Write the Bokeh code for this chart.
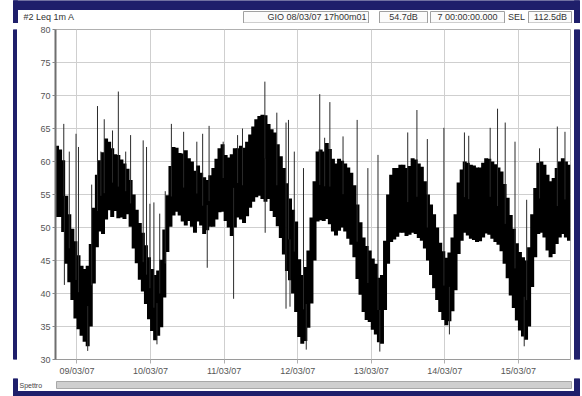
import pandas as pd
from bokeh.plotting import figure
from bokeh.layouts import column, row
from bokeh.models import (DatetimeTickFormatter, DaysTicker, FixedTicker, Range1d,
                          ColumnDataSource)
from bokeh.core.properties import value
from bokeh.embed import file_html
from bokeh.resources import INLINE

# ---------------- data ----------------
START = "2007-03-08 17:00"
END = "2007-03-15 17:00"

# hourly envelope of Leq 1m (dB), one value per hour from START
band_lo = [51.6, 51.6, 49.3, 44.5, 41.7, 39.0, 36.2, 34.6, 33.6, 32.7, 32.0, 35.0,
           41.5, 47.0, 49.4, 49.0, 51.2, 52.6, 51.6, 52.5, 51.4, 51.5, 51.3, 52.0,
           50.1, 46.8, 44.6, 42.1, 40.3, 38.4, 36.1, 34.3, 32.9, 33.6, 34.9, 39.4,
           46.3, 50.1, 51.8, 52.4, 51.8, 50.9, 50.3, 51.0, 50.1, 49.2, 50.9, 50.3,
           49.0, 49.6, 50.1, 50.1, 51.2, 52.3, 52.4, 51.0, 50.0, 48.7, 50.0, 51.5,
           51.2, 50.7, 51.7, 53.0, 53.9, 54.6, 54.8, 54.3, 53.9, 54.3, 52.5, 51.6,
           50.2, 48.4, 45.9, 43.4, 42.0, 40.0, 37.2, 33.4, 32.4, 32.8, 34.8, 38.5,
           45.0, 50.9, 51.1, 51.0, 51.3, 50.5, 49.4, 48.8, 49.5, 50.0, 49.4, 48.3,
           47.4, 45.5, 42.2, 39.8, 37.2, 36.0, 35.7, 34.5, 33.8, 32.6, 32.4, 37.5,
           44.5, 47.8, 48.2, 48.6, 49.2, 49.2, 48.7, 48.9, 49.2, 49.0, 48.4, 48.0,
           46.8, 45.0, 42.8, 40.8, 39.0, 37.2, 36.0, 35.2, 35.8, 37.3, 40.5, 46.0,
           48.0, 49.2, 48.8, 48.3, 48.1, 47.8, 47.9, 48.5, 49.1, 48.9, 48.3, 47.8,
           47.4, 46.4, 44.5, 42.3, 39.7, 37.8, 35.9, 34.4, 33.5, 33.0, 35.0, 41.0,
           45.5, 49.0, 49.2, 48.5, 46.5, 45.5, 46.0, 47.5, 48.5, 49.0, 48.5, 48.0]
band_hi = [62.4, 61.8, 60.2, 54.8, 52.0, 49.8, 47.9, 45.8, 44.2, 43.7, 44.2, 47.5,
           53.0, 58.0, 60.2, 61.4, 63.5, 63.0, 62.0, 61.1, 61.0, 60.3, 59.7, 58.9,
           57.2, 55.0, 52.7, 50.7, 49.2, 47.3, 45.5, 43.7, 42.8, 43.5, 45.1, 49.7,
           54.9, 59.3, 62.2, 62.1, 61.3, 61.2, 61.7, 60.5, 60.0, 58.6, 59.4, 58.3,
           57.6, 57.2, 57.9, 59.0, 60.4, 62.0, 62.6, 61.0, 60.6, 61.1, 62.0, 62.0,
           62.4, 62.1, 63.0, 64.1, 65.3, 66.4, 66.9, 67.1, 67.0, 65.7, 64.9, 64.4,
           62.6, 60.8, 59.0, 56.7, 54.4, 52.7, 50.9, 45.2, 42.8, 44.0, 46.5, 51.5,
           57.0, 61.5, 61.8, 61.5, 62.8, 61.9, 60.4, 59.7, 60.4, 60.1, 59.7, 59.1,
           58.3, 56.4, 53.5, 50.8, 48.5, 47.2, 46.5, 45.3, 44.5, 42.4, 42.8, 48.0,
           55.0, 58.0, 59.0, 59.0, 59.5, 59.5, 59.0, 59.3, 60.5, 60.3, 59.7, 59.2,
           57.0, 55.0, 53.5, 52.0, 50.0, 47.7, 46.4, 45.4, 46.2, 48.5, 52.0, 56.8,
           58.8, 60.0, 59.8, 59.5, 59.4, 59.1, 59.1, 59.8, 60.5, 60.4, 60.0, 59.6,
           59.1, 58.5, 56.6, 54.5, 51.9, 49.8, 47.6, 46.3, 45.5, 45.0, 47.0, 52.0,
           56.0, 59.8, 60.0, 59.5, 58.0, 57.0, 57.5, 59.0, 60.0, 60.5, 60.0, 59.5]

# isolated upward peaks: hours after START, level (dB)
spike_h = [2.7, 4.5, 6.7, 7.5, 11.8, 13.7, 14.8, 15.9, 18.6, 20.5, 22.9, 24.5,
           28.6, 29.7, 30.8, 32.1, 34.0, 35.8, 37.8, 41.8, 46.1, 48.0, 50.1, 54.7,
           59.4, 61.0, 68.3, 72.2, 75.2, 76.0, 77.9, 80.9, 86.2, 87.8, 89.5, 93.8,
           98.4, 101.9, 105.2, 114.9, 117.9, 121.3, 126.7, 133.4, 134.8, 141.8,
           144.2, 146.7, 149.9, 153.7, 157.9, 163.7, 166.2]
spike_db = [65.7, 61.5, 64.2, 62.2, 56.5, 68.4, 61.5, 66.4, 64.7, 70.6, 61.5, 64.0,
            63.2, 62.2, 53.6, 53.8, 52.1, 55.5, 65.7, 64.5, 63.0, 64.2, 65.4, 63.0,
            64.0, 65.0, 72.1, 67.4, 65.9, 66.3, 61.5, 59.0, 70.2, 63.6, 69.0, 63.8,
            66.3, 59.0, 61.0, 64.4, 67.8, 63.4, 65.1, 64.4, 63.9, 65.1,
            68.0, 65.9, 63.0, 54.2, 62.0, 65.3, 64.5]

# isolated downward dips: hours after START, level (dB)
dip_h = [2.9, 10.5, 33.1, 49.5, 58.1, 68.4, 75.2, 76.5, 81.8, 105.8, 128.5, 152.9]
dip_db = [41.3, 31.3, 32.3, 43.9, 39.2, 49.2, 37.7, 38.0, 31.5, 31.2, 33.8, 32.0]

y_ticks = [30, 35, 40, 45, 50, 55, 60, 65, 70, 75, 80]

header_left = "#2  Leq 1m  A"
header_fields = ["GIO 08/03/07 17h00m01", "54.7dB", "7 00:00:00.000", "112.5dB"]
header_sel_label = "SEL"
footer_label = "Spettro"

# ---------------- styling constants ----------------
FONT = "Liberation Sans"
NAVY = "#1f1f6b"
W = 582


def deco_fig(width, height):
    f = figure(width=width, height=height, x_range=Range1d(0, width),
               y_range=Range1d(height, 0), output_backend="svg",
               toolbar_location=None, x_axis_location=None, y_axis_location=None,
               min_border=0, min_border_left=0, min_border_right=0,
               min_border_top=0, min_border_bottom=0)
    f.grid.visible = False
    f.outline_line_color = None
    f.background_fill_color = "white"
    f.border_fill_color = "white"
    return f


def rects(f, x0, y0, x1, y1, fill, line=None):
    f.quad(left=x0, right=x1, top=y0, bottom=y1, fill_color=fill,
           line_color=line if line else fill, line_width=1)


# ---------------- header ----------------
HH = 23
hdr = deco_fig(W, HH)
rects(hdr, [13], [0], [579], [9], NAVY)
rects(hdr, [13, 574], [0, 0], [17, 579], [HH, HH], NAVY)
rects(hdr, [243, 379, 430, 528], [11] * 4, [368, 427, 504, 571], [22.5] * 4,
      "#fbfbfb", "#a0a0a0")
txt_kw = dict(text_font=value(FONT), text_font_size="9px", text_color="#333333",
              text_baseline="middle")
hdr.text(x=[23], y=[16.5], text=[header_left], text_align="left", **txt_kw)
hdr.text(x=[366], y=[16.5], text=[header_fields[0]], text_align="right", **txt_kw)
hdr.text(x=[403, 467, 550], y=[16.5] * 3,
         text=[header_fields[1], header_fields[2], header_fields[3]],
         text_align="center", **txt_kw)
hdr.text(x=[516], y=[16.5], text=[header_sel_label], text_align="center", **txt_kw)

# ---------------- main plot ----------------
MH = 355
t0 = pd.Timestamp(START)
hours = pd.date_range(START, periods=len(band_lo), freq="h") + pd.Timedelta(minutes=30)
band = ColumnDataSource(dict(t=hours, lo=band_lo, hi=band_hi))


def base_of(h):
    i = min(int(h), len(band_lo) - 1)
    return (band_lo[i] + band_hi[i]) / 2.0


spikes = ColumnDataSource(dict(
    t=[t0 + pd.Timedelta(hours=h) for h in spike_h],
    y0=[base_of(h) for h in spike_h], y1=spike_db))
dips = ColumnDataSource(dict(
    t=[t0 + pd.Timedelta(hours=h) for h in dip_h],
    y0=[base_of(h) for h in dip_h], y1=dip_db))

p = figure(width=556, height=MH, x_axis_type="datetime",
           x_range=Range1d(pd.Timestamp(START), pd.Timestamp(END)),
           y_range=Range1d(30, 80),
           output_backend="svg", toolbar_location=None,
           min_border_left=38, min_border_right=3,
           min_border_top=6, min_border_bottom=18)
p.background_fill_color = "white"
p.border_fill_color = "white"
p.outline_line_color = "#b0b0b0"

HOUR_MS = 3600 * 1000
p.vbar(x="t", bottom="lo", top="hi", width=1.3 * HOUR_MS, source=band,
       fill_color="black", line_color=None)
p.segment(x0="t", y0="y0", x1="t", y1="y1", source=spikes, line_color="#2a2a2a",
          line_width=1)
p.segment(x0="t", y0="y0", x1="t", y1="y1", source=dips, line_color="#2a2a2a",
          line_width=1)

day_ticker = DaysTicker(days=list(range(1, 32)))
p.xaxis.ticker = day_ticker
p.xaxis.formatter = DatetimeTickFormatter(days="%d/%m/%y", months="%d/%m/%y",
                                          hours="%d/%m/%y")
p.yaxis.ticker = FixedTicker(ticks=y_ticks)
p.xgrid.ticker = day_ticker
p.ygrid.ticker = FixedTicker(ticks=y_ticks)
p.grid.grid_line_color = "#cfcfcf"
p.grid.grid_line_width = 1

for ax in (p.xaxis[0], p.yaxis[0]):
    ax.major_label_text_font = FONT
    ax.major_label_text_font_size = "9px"
    ax.major_label_text_color = "#555555"
    ax.minor_tick_line_color = None
    ax.major_tick_in = 0
    ax.major_label_standoff = 2
p.yaxis.axis_line_color = "#6f6f6f"
p.yaxis.axis_line_width = 2
p.yaxis.major_tick_line_color = "#888888"
p.yaxis.major_tick_out = 3
p.xaxis.axis_line_color = "#9a9a9a"
p.xaxis.major_tick_line_color = "#b0b0b0"
p.xaxis.major_tick_out = 4

# side strips with the navy window frame
left_strip = deco_fig(17, MH)
rects(left_strip, [13], [0], [17], [MH], NAVY)
right_strip = deco_fig(9, MH)
rects(right_strip, [1], [0], [6], [MH], NAVY)

# ---------------- footer ----------------
FH = 396 - HH - MH
ftr = deco_fig(W, FH)
rects(ftr, [13, 574], [0, 0], [17, 579], [FH, FH], NAVY)
rects(ftr, [13], [FH - 5], [579], [FH], NAVY)
rects(ftr, [56], [3], [571], [10], "#cfcfcf", "#a8a8a8")
ftr.text(x=[19], y=[6.5], text=[footer_label], text_align="left",
         text_font=value(FONT), text_font_size="7px", text_color="#444444",
         text_baseline="middle")

layout = column(hdr, row(left_strip, p, right_strip), ftr)

open("out.html", "w").write(file_html(layout, INLINE))
